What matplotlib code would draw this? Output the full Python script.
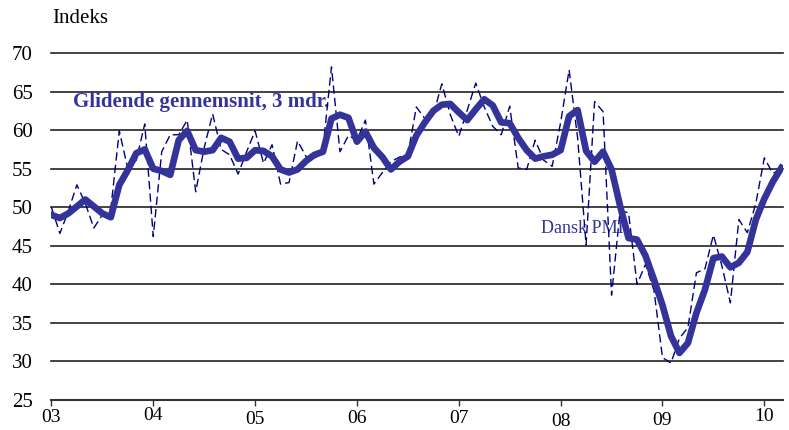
import matplotlib
matplotlib.use('Agg')
import matplotlib.pyplot as plt

# Dansk PMI, monthly Jan 2003 - Mar 2010
pmi = [50.0, 46.6, 49.5, 52.9, 50.5, 47.3, 49.0, 49.8, 59.9, 55.0, 56.1, 60.8,
       46.2, 57.2, 59.4, 59.4, 61.3, 52.0, 57.7, 62.1, 57.5, 56.8, 54.3, 57.2,
       59.9, 55.7, 58.1, 53.0, 53.2, 58.6, 56.6, 56.2, 57.7, 68.2, 57.2, 59.3,
       58.7, 61.3, 53.0, 54.5, 55.9, 56.5, 56.8, 63.0, 61.5, 62.0, 66.0, 62.0,
       59.2, 62.6, 66.1, 63.0, 60.5, 59.4, 63.1, 55.1, 54.9, 58.7, 56.1, 55.3,
       61.0, 67.8, 59.0, 45.1, 63.7, 62.4, 38.6, 49.5, 49.3, 40.0, 42.6, 39.2,
       30.5, 29.8, 33.0, 34.4, 41.5, 42.0, 46.4, 42.4, 37.6, 48.4, 46.7, 50.5,
       56.4, 54.4, 54.9]

# glidende gennemsnit, 3 mdr.
gns = [49.0, 48.6, 49.2, 50.1, 51.0, 50.1, 49.2, 48.7, 52.9, 54.8, 57.0, 57.5,
       55.0, 54.7, 54.2, 58.7, 59.9, 57.4, 57.2, 57.4, 59.0, 58.5, 56.3, 56.4,
       57.4, 57.3, 56.6, 54.9, 54.5, 54.9, 56.0, 56.8, 57.2, 61.5, 62.0, 61.6,
       58.5, 59.8, 57.7, 56.5, 54.9, 55.9, 56.6, 59.3, 61.0, 62.5, 63.3, 63.4,
       62.3, 61.3, 62.7, 64.0, 63.2, 61.0, 60.9, 59.0, 57.4, 56.3, 56.6, 56.8,
       57.4, 61.8, 62.6, 57.3, 55.9, 57.2, 54.9, 50.2, 46.0, 45.8, 43.7, 40.6,
       37.3, 33.3, 31.1, 32.4, 36.3, 39.3, 43.4, 43.6, 42.2, 42.8, 44.2, 48.4,
       51.1, 53.3, 55.1]

years = ['03', '04', '05', '06', '07', '08', '09', '10']

plt.rcParams['font.family'] = 'Liberation Serif'

months = list(range(len(pmi)))

fig = plt.figure(figsize=(7.89, 4.30), dpi=100)
ax = fig.add_axes([0.0646, 0.0698, 0.9278, 0.8069])

ax.plot(months, pmi, color='#000080', lw=1.0, dashes=(6, 3), zorder=3)
ax.plot(months, gns, color='#333399', lw=4.8, zorder=4)

ax.set_ylim(25, 70)
ax.set_yticks(range(25, 71, 5))
ax.set_xlim(-0.05, 86.2)
ax.set_xticks(range(0, 85, 12))
ax.set_xticklabels(years)

for s in ['left', 'right', 'top']:
    ax.spines[s].set_visible(False)
ax.spines['bottom'].set_color('#333333')
ax.spines['bottom'].set_linewidth(1.5)

ax.grid(axis='y', color='#222222', lw=1.2)
ax.set_axisbelow(True)
for gl in ax.get_ygridlines():
    gl.set_clip_on(False)

ax.tick_params(axis='y', length=0, pad=13, labelsize=15)
ax.tick_params(axis='x', length=4, width=1, direction='out', labelsize=14,
               color='#333333')

# staggered x labels like the original
pads = [2.5, 1, 4, 3.5, 3, 5.5, 4.5, 1.5]
for t, p in zip(ax.xaxis.get_major_ticks(), pads):
    t.set_pad(p)

fig.text(0.066, 0.958, 'Indeks', ha='left', va='center', fontsize=15)
ax.text(2.5, 63.7, 'Glidende gennemsnit, 3 mdr.', color='#333399',
        fontsize=15, fontweight='bold', va='center', ha='left', zorder=2)
ax.text(57.7, 47.3, 'Dansk PMI', color='#333399', fontsize=13,
        va='center', ha='left', zorder=2)

fig.savefig('out.png', dpi=100)
